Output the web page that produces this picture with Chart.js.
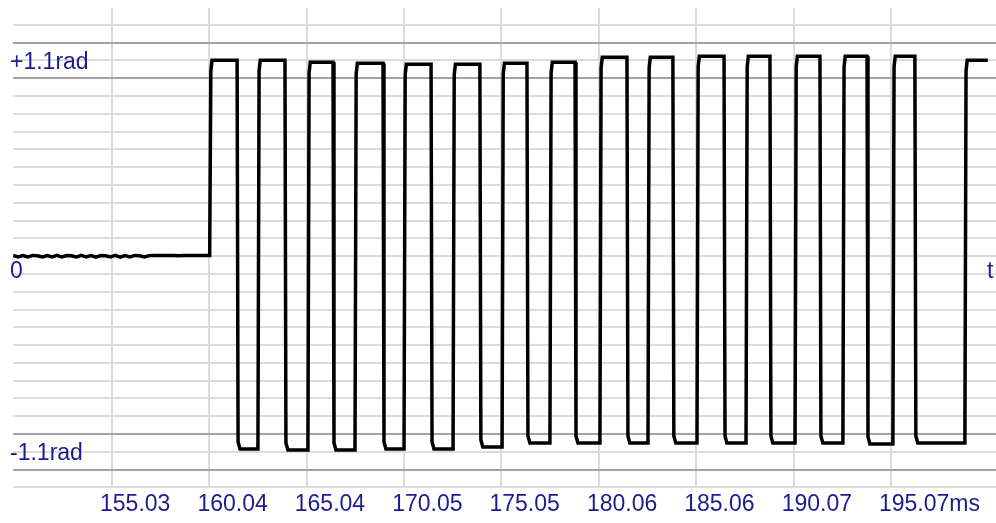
<!DOCTYPE html>
<html>
<head>
<meta charset="utf-8">
<script src="https://cdn.jsdelivr.net/npm/chart.js@4.4.0/dist/chart.umd.min.js"></script>
<style>
  body { margin: 0; background: #ffffff; }
  canvas { display: block; }
</style>
</head>
<body>
<canvas id="phaseChart" width="996" height="523"></canvas>
<script>
// x axis ticks (ms)
var tickValues = [155.03, 160.04, 165.04, 170.05, 175.05, 180.06, 185.06, 190.07, 195.07];
var tickLabels = ['155.03', '160.04', '165.04', '170.05', '175.05', '180.06', '185.06', '190.07', '195.07ms'];

// y axis labels (rad)
var yLabelValues = [1.1, 0, -1.1];
var yLabelTexts = ['+1.1rad', '0', '-1.1rad'];

// quiet part before the burst
var baseTimes = [149.95, 150.2, 150.45, 150.7, 150.95, 151.2, 151.45, 151.7, 151.95, 152.2, 152.45, 152.7, 152.95, 153.2, 153.45, 153.7, 153.95, 154.2, 154.45, 154.7, 154.95, 155.2, 155.45, 155.7, 155.95, 156.2, 156.45, 156.7, 156.95, 157.2, 157.45, 157.7, 157.95, 158.2, 158.45, 158.7, 158.95, 159.2, 159.45, 159.7, 160.0];
var baseValues = [0.004, -0.004, 0.003, -0.005, 0.004, 0.002, -0.005, 0.003, -0.004, 0.004, -0.005, 0.003, 0.002, -0.005, 0.004, -0.004, 0.003, -0.006, 0.003, 0.002, -0.004, 0.004, -0.006, 0.003, -0.004, 0.004, 0.002, -0.005, 0.003, 0.004, 0.003, 0.004, 0.003, 0.004, 0.002, 0.004, 0.003, 0.004, 0.004, 0.003, 0.004];

// square wave edges (ms) and plateau levels (rad)
var riseTimes = [160.05, 162.53, 165.10, 167.52, 170.04, 172.56, 175.08, 177.54, 180.11, 182.58, 185.10, 187.62, 190.14, 192.60, 195.17, 198.87];
var fallTimes = [161.46, 163.92, 166.39, 168.96, 171.43, 173.94, 176.36, 178.83, 181.50, 183.86, 186.49, 188.85, 191.42, 193.84, 196.30];
var highLevels = [1.101, 1.101, 1.090, 1.084, 1.079, 1.079, 1.084, 1.090, 1.118, 1.118, 1.124, 1.124, 1.124, 1.124, 1.124, 1.101];
var lowLevels = [-1.084, -1.090, -1.090, -1.084, -1.084, -1.073, -1.051, -1.051, -1.051, -1.051, -1.051, -1.051, -1.051, -1.056, -1.051];
var endTime = 200.05;

var points = [];
for (var i = 0; i < baseTimes.length; i++) {
    points.push({x: baseTimes[i], y: baseValues[i]});
}
var prev = baseValues[baseValues.length - 1];
for (var k = 0; k < riseTimes.length; k++) {
    var hi = highLevels[k];
    points.push({x: riseTimes[k], y: prev});
    points.push({x: riseTimes[k] + 0.06, y: hi - 0.06});
    points.push({x: riseTimes[k] + 0.12, y: hi});
    if (k < fallTimes.length) {
        var lo = lowLevels[k];
        points.push({x: fallTimes[k], y: hi});
        points.push({x: fallTimes[k] + 0.05, y: lo + 0.04});
        points.push({x: fallTimes[k] + 0.15, y: lo});
        prev = lo;
    } else {
        points.push({x: endTime, y: hi});
    }
}

var yGrid = [];
for (var g = -13; g <= 13; g++) yGrid.push(g / 10);

var textColor = '#1c1c90';
var labelFont = '23px "Liberation Sans", Arial, sans-serif';

var axisText = {
    id: 'axisText',
    afterDraw: function(chart) {
        var ctx = chart.ctx;
        var y = chart.scales.y;
        ctx.save();
        ctx.font = labelFont;
        ctx.fillStyle = textColor;
        ctx.textAlign = 'left';
        ctx.textBaseline = 'middle';
        for (var i = 0; i < yLabelValues.length; i++) {
            var dy = yLabelValues[i] === 0 ? 16 : 2;
            ctx.fillText(yLabelTexts[i], 10, y.getPixelForValue(yLabelValues[i]) + dy);
        }
        ctx.fillText('t', 987, y.getPixelForValue(0) + 16);
        ctx.restore();
    }
};

new Chart(document.getElementById('phaseChart'), {
    type: 'line',
    data: {
        datasets: [{
            data: points,
            borderColor: '#000000',
            borderWidth: 3.5,
            pointRadius: 0,
            tension: 0,
            fill: false
        }]
    },
    options: {
        responsive: false,
        animation: false,
        layout: { padding: { left: 13, top: 8, right: 0, bottom: 2 } },
        plugins: {
            legend: { display: false },
            tooltip: { enabled: false }
        },
        scales: {
            x: {
                type: 'linear',
                min: 149.94,
                max: 200.47,
                afterBuildTicks: function(axis) {
                    axis.ticks = tickValues.map(function(v) { return {value: v}; });
                },
                ticks: {
                    autoSkip: false,
                    maxRotation: 0,
                    align: 'start',
                    labelOffset: -12,
                    padding: 3,
                    color: textColor,
                    font: { family: '"Liberation Sans", Arial, sans-serif', size: 23 },
                    callback: function(value, index) { return tickLabels[index]; }
                },
                grid: { color: '#dcdcdc', lineWidth: 2, drawTicks: false },
                border: { display: false }
            },
            y: {
                type: 'linear',
                min: -1.3,
                max: 1.395,
                afterBuildTicks: function(axis) {
                    axis.ticks = yGrid.map(function(v) { return {value: v}; });
                },
                ticks: { display: false },
                grid: {
                    drawTicks: false,
                    lineWidth: 2,
                    color: function(c) {
                        var v = Math.abs(c.tick.value);
                        return (Math.abs(v - 1.0) < 0.001 || Math.abs(v - 1.2) < 0.001) ? '#a4a4a4' : '#dcdcdc';
                    }
                },
                border: { display: false }
            }
        }
    },
    plugins: [axisText]
});
</script>
</body>
</html>
